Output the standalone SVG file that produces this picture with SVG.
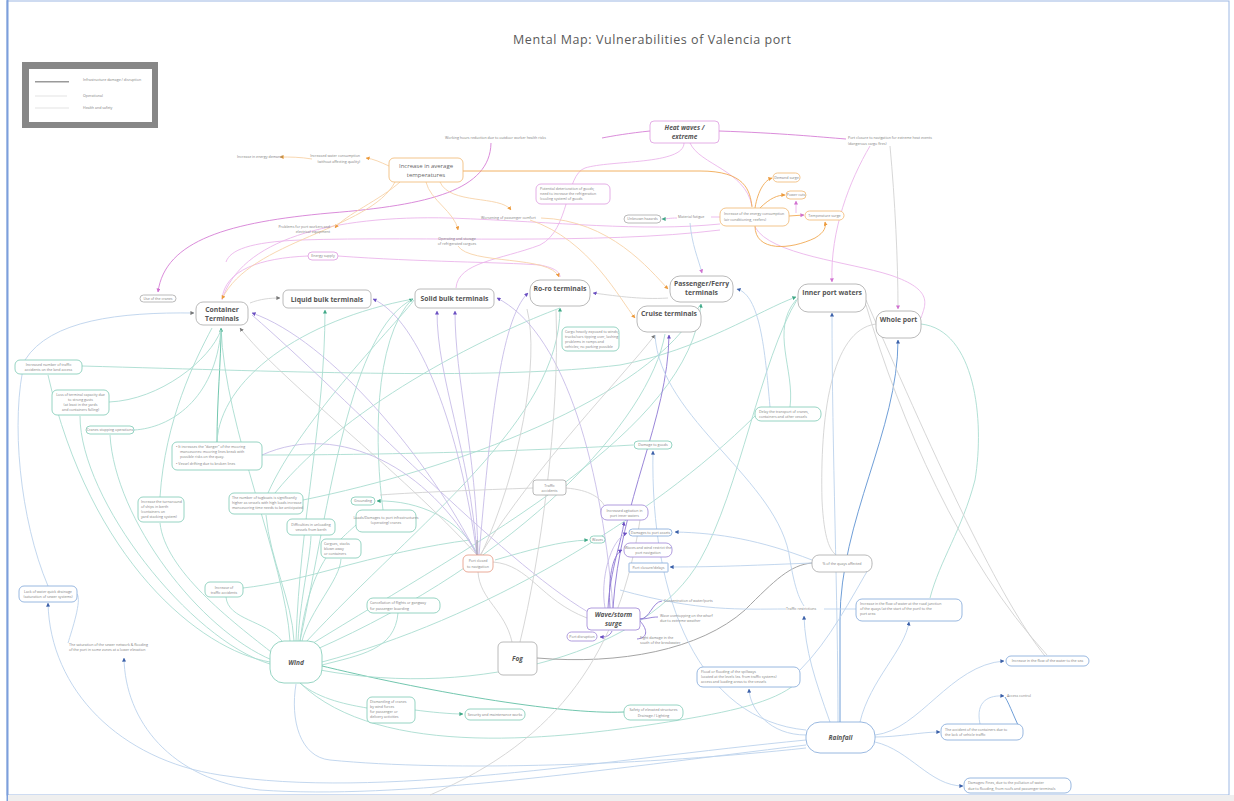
<svg xmlns="http://www.w3.org/2000/svg" width="1234" height="801" viewBox="0 0 1234 801">
<style>
  text{font-family:"Open Sans","Liberation Sans",sans-serif}
  .tx{font-size:3.6px;fill:#808080}
  .main{font-size:6.8px;font-weight:700;fill:#555;text-anchor:middle}
  .haz{font-size:6.5px;font-weight:700;font-style:italic;fill:#555;text-anchor:middle}
  .mid{text-anchor:middle}
  .box{fill:#fff;stroke-width:0.8}
  .bt{stroke:#7cc9b4}.bp{stroke:#9d84d6}.bb{stroke:#7fa6d8}.bk{stroke:#dd9be0}
  .bo{stroke:#f0b670}.bg{stroke:#a8a8a8}.br{stroke:#e5957f}
  #connectors path{fill:none;stroke-width:0.9}
  .ct{stroke:#a9ddd0}.ctd{stroke:#62bfa5}
  .cp{stroke:#c7bce8}.cpd{stroke:#8f78d4}
  .cb{stroke:#bcd2ec}.cbd{stroke:#5f93d2}
  .ck{stroke:#ebb5eb}.ckd{stroke:#d67fd6}
  .co{stroke:#f7d3a8}.cod{stroke:#f0a954}
  .cg{stroke:#d3d3d3}.cgd{stroke:#9a9a9a}
</style>
<defs>
  <marker id="aT" viewBox="0 0 10 10" refX="9" refY="5" markerWidth="4" markerHeight="4" markerUnits="userSpaceOnUse" orient="auto"><path d="M0,0L10,5L0,10z" fill="#3fa886"/></marker>
  <marker id="aP" viewBox="0 0 10 10" refX="9" refY="5" markerWidth="4" markerHeight="4" markerUnits="userSpaceOnUse" orient="auto"><path d="M0,0L10,5L0,10z" fill="#6a4fc2"/></marker>
  <marker id="aB" viewBox="0 0 10 10" refX="9" refY="5" markerWidth="4" markerHeight="4" markerUnits="userSpaceOnUse" orient="auto"><path d="M0,0L10,5L0,10z" fill="#3a5fa8"/></marker>
  <marker id="aK" viewBox="0 0 10 10" refX="9" refY="5" markerWidth="4" markerHeight="4" markerUnits="userSpaceOnUse" orient="auto"><path d="M0,0L10,5L0,10z" fill="#d070d0"/></marker>
  <marker id="aO" viewBox="0 0 10 10" refX="9" refY="5" markerWidth="4" markerHeight="4" markerUnits="userSpaceOnUse" orient="auto"><path d="M0,0L10,5L0,10z" fill="#ec9a3c"/></marker>
  <marker id="aG" viewBox="0 0 10 10" refX="9" refY="5" markerWidth="4" markerHeight="4" markerUnits="userSpaceOnUse" orient="auto"><path d="M0,0L10,5L0,10z" fill="#777"/></marker>
</defs>

<!-- page frame -->
<rect x="0" y="0" width="1234" height="801" fill="#fff"/>
<rect x="7" y="1" width="1222" height="794" fill="none" stroke="#9db8e4" stroke-width="1"/>
<line x1="7.5" y1="0" x2="7.5" y2="801" stroke="#7d9fdc" stroke-width="2"/>
<rect x="8" y="795" width="1226" height="6" fill="#efefef"/>

<text x="652" y="44" font-size="12.5" fill="#5a5a5a" text-anchor="middle" textLength="278">Mental Map: Vulnerabilities of Valencia port</text>

<!-- legend -->
<g id="legend">
  <rect x="22" y="62" width="136" height="66" fill="#878787"/>
  <rect x="29" y="69" width="123" height="53" fill="#fff"/>
  <line x1="35" y1="81.7" x2="69" y2="81.7" stroke="#9a9a9a" stroke-width="1.4"/>
  <line x1="35" y1="96" x2="67" y2="96" stroke="#dcdcdc" stroke-width="0.8"/>
  <line x1="35" y1="108" x2="69" y2="108" stroke="#dcdcdc" stroke-width="0.8"/>
  <text class="tx" x="83" y="81" font-size="3.1">Infrastructure damage / disruption</text>
  <text class="tx" x="83" y="97" font-size="3.1">Operational</text>
  <text class="tx" x="83" y="109" font-size="3.1">Health and safety</text>
</g>

<g id="connectors">
  <!-- heat waves -->
  <path class="ckd" d="M650 131 C630 133,612 136,602 138"/>
  <path class="ckd" d="M491 143 C490 190,430 205,330 213 C230 222,165 240,158 292" marker-end="url(#aK)"/>
  <path class="ck" d="M684 143 C684 165,610 160,585 168 C565 175,570 230,540 245 C500 260,458 262,456 288"/>
  <path class="ck" d="M690 143 C700 165,745 170,752 206"/>
  <path class="ckd" d="M719 131 C780 133,820 137,846 139"/>
  <path class="ck" d="M870 146 C850 180,830 230,832 282" marker-end="url(#aK)"/>
  <path class="cg" d="M890 146 C895 200,898 260,898 309" marker-end="url(#aK)"/>
  <path class="ck" d="M338 256 C420 262,500 262,540 265 C555 268,560 272,560 277"/>
  <path class="ck" d="M308 256 C260 258,225 270,222 299"/>
  <path class="ck" d="M222 300 C240 240,330 215,450 218 C560 222,640 232,720 224"/>
  <path class="ck" d="M755 227 C770 255,850 262,890 275 C935 290,925 305,921 318"/>
  <path class="ck" d="M720 230 C600 245,420 236,300 240 C250 242,230 250,226 262"/>
  <path class="ck" d="M796 213 L796 201" marker-end="url(#aK)"/>
  <path class="ck" d="M677 218 C670 218,666 219,662 219" marker-end="url(#aT)"/>
  <path class="ck" d="M720 217 L711 217"/>
  <path class="cb" d="M690 223 C692 245,698 258,702 273" marker-end="url(#aK)"/>
  <!-- average temperatures -->
  <path class="cod" d="M463 171 L700 171 C745 171,750 190,752 207"/>
  <path class="co" d="M389 166 C380 162,374 159,366 158" marker-end="url(#aO)"/>
  <path class="co" d="M312 159 C300 157,290 157,280 157" marker-end="url(#aO)"/>
  <path class="co" d="M440 182 C450 205,500 195,511 210" marker-end="url(#aO)"/>
  <path class="co" d="M426 182 C430 200,455 212,458 230" marker-end="url(#aO)"/>
  <path class="co" d="M400 182 C380 200,345 215,335 228" marker-end="url(#aO)"/>
  <path class="co" d="M395 182 C370 230,250 240,222 299" marker-end="url(#aO)"/>
  <path class="co" d="M541 218 C610 220,650 270,668 289" marker-end="url(#aO)"/>
  <path class="co" d="M458 246 C470 265,550 255,559 277" marker-end="url(#aO)"/>
  <path class="co" d="M530 220 C590 240,620 300,635 318" marker-end="url(#aO)"/>
  <path class="cod" d="M755 208 C758 190,765 180,772 178" marker-end="url(#aO)"/>
  <path class="cod" d="M760 208 C770 198,778 195,785 195" marker-end="url(#aO)"/>
  <path class="cod" d="M789 216 L804 215" marker-end="url(#aK)"/>
  <path class="cod" d="M755 226 C755 252,790 250,815 238 C825 232,826 227,825 222" marker-end="url(#aO)"/>
  <!-- wind -->
  <path class="ct" d="M290 641 C285 560,225 430,221 328" marker-end="url(#aT)"/>
  <path class="ctd" d="M217 442 C217 400,221 360,221 329"/>
  <path class="ct" d="M217 442 C220 380,300 320,413 299"/>
  <path class="ct" d="M296 641 C300 520,325 420,325 310" marker-end="url(#aT)"/>
  <path class="ct" d="M300 641 C330 500,350 330,413 299" marker-end="url(#aT)"/>
  <path class="ct" d="M305 643 C420 520,560 420,560 308" marker-end="url(#aT)"/>
  <path class="ct" d="M310 645 C480 540,690 430,701 304" marker-end="url(#aT)"/>
  <path class="ct" d="M315 650 C520 560,650 420,665 334"/>
  <path class="ct" d="M82 366 C300 372,500 380,620 365 C700 350,760 310,796 297" marker-end="url(#aT)"/>
  <path class="ct" d="M270 662 C200 650,90 560,48 375"/>
  <path class="ct" d="M270 664 C190 640,80 500,80 416"/>
  <path class="ct" d="M272 660 C200 630,115 520,110 435"/>
  <path class="ct" d="M275 655 C230 620,165 570,160 523"/>
  <path class="ct" d="M294 641 C292 600,270 560,266 515"/>
  <path class="ct" d="M298 641 C300 600,310 560,311 536"/>
  <path class="ct" d="M302 641 C310 610,340 580,341 559"/>
  <path class="ct" d="M300 641 C310 560,340 540,356 525"/>
  <path class="ct" d="M226 597 C228 620,265 620,282 641"/>
  <path class="ct" d="M243 588 C270 585,300 578,330 570 C380 556,430 545,470 540"/>
  <path class="ct" d="M322 665 C360 655,395 650,398 613"/>
  <path class="ctd" d="M318 665 C420 690,560 715,624 712"/>
  <path class="ct" d="M300 683 C320 700,350 705,367 708"/>
  <path class="ct" d="M415 710 C430 712,450 714,463 714" marker-end="url(#aT)"/>
  <path class="ct" d="M322 662 C480 620,650 520,755 416"/>
  <path class="ct" d="M790 407 C795 370,770 330,796 300"/>
  <path class="ct" d="M262 455 C400 455,550 450,633 445"/>
  <path class="ct" d="M268 493 C300 420,400 320,414 300"/>
  <path class="ct" d="M275 493 C350 400,500 330,560 308"/>
  <path class="ct" d="M383 510 C375 450,372 340,413 298"/>
  <path class="ct" d="M477 553 C460 520,420 500,377 501" marker-end="url(#aT)"/>
  <path class="ct" d="M495 560 C530 550,560 541,588 540" marker-end="url(#aT)"/>
  <path class="ct" d="M134 430 C170 428,215 400,221 330"/>
  <path class="ct" d="M109 402 C160 400,210 360,221 330"/>
  <path class="ct" d="M160 497 C165 420,195 360,212 328"/>
  <path class="ct" d="M303 500 C450 470,650 400,700 305"/>
  <path class="ct" d="M921 324 C975 330,985 420,975 480 C962 530,940 560,930 598"/>
  <path class="ct" d="M320 670 C480 700,650 650,700 560 C740 490,760 360,798 298"/>
  <path class="ct" d="M300 683 C380 760,560 740,680 720 C740 710,780 700,800 680"/>
  <!-- port closure hub, waves -->
  <path class="cp" d="M477 555 C430 460,330 340,252 313" marker-end="url(#aP)"/>
  <path class="cg" d="M477 555 C400 470,280 380,240 328" marker-end="url(#aG)"/>
  <path class="cp" d="M477 555 C470 450,437 380,437 311" marker-end="url(#aP)"/>
  <path class="cp" d="M478 555 C476 450,455 380,455 311" marker-end="url(#aP)"/>
  <path class="cp" d="M477 555 C460 430,420 320,373 299" marker-end="url(#aP)"/>
  <path class="cp" d="M479 555 C490 430,500 320,528 293" marker-end="url(#aP)"/>
  <path class="cg" d="M480 555 C540 460,620 380,655 335" marker-end="url(#aG)"/>
  <path class="cg" d="M481 555 C520 470,540 360,527 309"/>
  <path class="cgd" d="M477 555 L477 540" stroke-width="2"/>
  <path class="cp" d="M476 553 C430 470,340 420,262 455"/>
  <path class="cp" d="M613 608 C600 450,560 330,497 298" marker-end="url(#aP)"/>
  <path class="cpd" d="M613 608 C620 500,668 420,669 335" marker-end="url(#aP)"/>
  <path class="cpd" d="M608 608 C610 570,622 540,624 522" marker-end="url(#aP)"/>
  <path class="cp" d="M605 608 C600 580,610 540,627 533" marker-end="url(#aP)"/>
  <path class="cpd" d="M610 608 C608 580,612 555,622 550" marker-end="url(#aP)"/>
  <path class="cpd" d="M640 619 C650 619,652 602,662 601"/>
  <path class="cpd" d="M640 619 C648 619,650 617,658 617"/>
  <path class="cpd" d="M640 621 C648 630,648 638,637 639"/>
  <path class="cpd" d="M612 631 C610 636,606 637,600 637" marker-end="url(#aP)"/>
  <path class="cp" d="M588 612 C500 560,350 400,252 315"/>
  <!-- fog -->
  <path class="cgd" d="M537 658 C620 665,700 650,745 610 C775 580,790 565,812 563"/>
  <path class="cg" d="M512 642 C505 610,480 600,478 572"/>
  <path class="cg" d="M520 642 C540 560,560 420,556 310"/>
  <path class="cg" d="M493 562 C530 565,540 600,587 618"/>
  <path class="cg" d="M640 520 C620 650,560 740,430 795"/>
  <path class="cg" d="M566 488 C590 490,600 498,604 505"/>
  <path class="cg" d="M533 488 C480 490,420 492,380 495"/>
  <path class="cg" d="M876 324 C830 330,820 420,822 500 C824 540,830 550,836 555"/>
  <path class="cg" d="M250 303 C260 299,270 298,280 298" marker-end="url(#aG)"/>
  <path class="cg" d="M668 298 C640 300,610 295,593 293" marker-end="url(#aP)"/>
  <!-- rainfall -->
  <path class="cbd" d="M840 722 L840 620 C840 520,898 430,898 340" stroke-width="1.5" marker-end="url(#aB)"/>
  <path class="cb" d="M838 722 C838 600,832 450,832 313" marker-end="url(#aB)"/>
  <path class="cb" d="M875 735 C920 730,950 665,1004 661" marker-end="url(#aB)"/>
  <path class="cb" d="M875 737 C900 737,920 732,940 732" marker-end="url(#aB)"/>
  <path class="cb" d="M875 742 C910 750,930 786,963 786" marker-end="url(#aB)"/>
  <path class="cb" d="M980 724 C975 700,990 695,1004 696" marker-end="url(#aB)"/>
  <path class="cbd" d="M1022 733 C1015 720,1010 705,1005 697" stroke-width="1.2"/>
  <path class="cb" d="M806 735 C770 735,750 710,749 689" marker-end="url(#aB)"/>
  <path class="cb" d="M830 722 C815 680,805 650,804 616" marker-end="url(#aB)"/>
  <path class="cb" d="M860 722 C870 680,905 650,909 622" marker-end="url(#aB)"/>
  <path class="cb" d="M806 740 C600 760,380 800,220 775 C120 760,50 690,48 603" marker-end="url(#aB)"/>
  <path class="cb" d="M806 745 C600 770,400 800,260 790 C170 780,125 720,124 658" marker-end="url(#aB)"/>
  <path class="cb" d="M806 730 C700 720,650 600,653 451" marker-end="url(#aB)"/>
  <path class="cb" d="M806 748 C650 765,450 772,330 760 C300 757,290 720,296 684"/>
  <path class="cb" d="M824 609 L856 609"/>
  <path class="cb" d="M786 609 C740 609,700 612,620 590"/>
  <path class="cb" d="M77 594 C82 600,72 630,68 643"/>
  <path class="cb" d="M812 563 C760 565,720 567,670 567" marker-end="url(#aB)"/>
  <path class="cb" d="M812 560 C760 540,720 533,675 532" marker-end="url(#aB)"/>
  <path class="cg" d="M866 305 C900 420,960 560,1047 655"/>
  <path class="cg" d="M1045 656 C1000 600,940 470,866 300"/>
  <path class="cb" d="M770 407 C765 350,760 295,737 289" marker-end="url(#aB)"/>
  <path class="cb" d="M655 335 C660 420,780 480,790 560 C795 590,800 600,804 606"/>
  <path class="cb" d="M48 586 C20 520,10 420,25 360 C50 320,120 312,194 313" marker-end="url(#aG)"/>
  <path class="cb" d="M800 670 C830 640,850 600,872 563"/>
</g>

<!-- main terminals -->
<g id="container"><rect class="box bg" x="196" y="302" width="52" height="23" rx="7"/><text class="main" x="222" y="311.5">Container</text><text class="main" x="222" y="320.5">Terminals</text></g>
<g id="liquid"><rect class="box bg" x="283" y="290" width="88" height="18" rx="5"/><text class="main" x="327" y="301.5">Liquid bulk terminals</text></g>
<g id="solid"><rect class="box bg" x="415" y="289" width="79" height="19" rx="5"/><text class="main" x="454.5" y="300.5">Solid bulk terminals</text></g>
<g id="roro"><rect class="box bg" x="530" y="280" width="60" height="26" rx="10"/><text class="main" x="560" y="291">Ro-ro terminals</text></g>
<g id="passenger"><rect class="box bg" x="670" y="276" width="63" height="26" rx="10"/><text class="main" x="701.5" y="285.5">Passenger/Ferry</text><text class="main" x="701.5" y="294.5">terminals</text></g>
<g id="cruise"><rect class="box bg" x="637" y="306" width="64" height="26" rx="10"/><text class="main" x="669" y="316">Cruise terminals</text></g>
<g id="inner"><rect class="box bg" x="798" y="284" width="68" height="28" rx="10"/><text class="main" x="832" y="295">Inner port waters</text></g>
<g id="whole"><rect class="box bg" x="876" y="311" width="45" height="27" rx="10"/><text class="main" x="898.5" y="322">Whole port</text></g>

<!-- hazards -->
<g id="heat"><rect class="box bk" x="650" y="121" width="69" height="22" rx="4" stroke-width="1"/><text class="haz" x="684.5" y="130">Heat waves /</text><text class="haz" x="684.5" y="139">extreme</text></g>
<g id="temp"><rect class="box bo" x="389" y="158" width="74" height="24" rx="5" stroke-width="1"/><text class="mid" x="426" y="168" font-size="6" fill="#666">Increase in average</text><text class="mid" x="426" y="177" font-size="6" fill="#666">temperatures</text></g>
<g id="wind"><rect class="box bt" x="270" y="641" width="52" height="42" rx="14" stroke-width="1"/><text class="haz" x="296" y="665">Wind</text></g>
<g id="fog"><rect class="box bg" x="498" y="642" width="39" height="33" rx="5" stroke-width="1"/><text class="haz" x="517.5" y="661">Fog</text></g>
<g id="wave"><rect class="box bp" x="587" y="608" width="53" height="22" rx="4" stroke-width="1.3"/><text class="haz" x="613.5" y="617">Wave/storm</text><text class="haz" x="613.5" y="626">surge</text></g>
<g id="rain"><rect class="box bb" x="806" y="722" width="69" height="31" rx="14" stroke-width="1"/><text class="haz" x="840.5" y="740">Rainfall</text></g>

<!-- secondary nodes: heat and temperature -->
<g id="n-work"><text class="tx" x="445" y="139">Working hours reduction due to outdoor worker health risks</text></g>
<g id="n-water"><text class="tx" x="360" y="157" text-anchor="end">Increased water consumption</text><text class="tx" x="360" y="163" text-anchor="end">(without affecting quality)</text></g>
<g id="n-energyd"><text class="tx" x="237" y="158">Increase in energy demand</text></g>
<g id="n-goods"><rect class="box bk" x="536" y="184" width="74" height="20" rx="5"/><text class="tx" x="540" y="190">Potential deterioration of goods;</text><text class="tx" x="540" y="195">need to increase the refrigeration</text><text class="tx" x="540" y="200">(cooling system) of goods</text></g>
<g id="n-comfort"><text class="tx" x="481" y="219">Worsening of passenger comfort</text></g>
<g id="n-equip"><text class="tx" x="330" y="228" text-anchor="end">Problems for port workers and</text><text class="tx" x="330" y="233" text-anchor="end">electrical equipment</text></g>
<g id="n-reefer"><text class="tx mid" x="457" y="240">Operating and storage</text><text class="tx mid" x="457" y="245">of refrigerated cargoes</text></g>
<g id="n-supply"><rect class="box bk" x="308" y="252" width="30" height="8" rx="4"/><text class="tx mid" x="323" y="257.3">Energy supply</text></g>
<g id="n-cranes"><rect class="box bg" x="140" y="295" width="36" height="7" rx="3.5"/><text class="tx mid" x="158" y="299.8">Use of the cranes</text></g>
<g id="n-unknown"><rect class="box bg" x="624" y="215" width="37" height="8" rx="4"/><text class="tx mid" x="642.5" y="220.3">Unknown hazards</text></g>
<g id="n-fatigue"><text class="tx" x="678" y="218.3">Material fatigue</text></g>
<g id="n-consump"><rect class="box bo" x="720" y="208" width="69" height="18" rx="6"/><text class="tx" x="724" y="215">Increase of the energy consumption</text><text class="tx" x="724" y="221">(air conditioning, reefers)</text></g>
<g id="n-demand"><rect class="box bo" x="773" y="173" width="27" height="9" rx="4.5"/><text class="tx mid" x="786.5" y="178.8">Demand surge</text></g>
<g id="n-cuts"><rect class="box bo" x="786" y="191" width="20" height="8" rx="4"/><text class="tx mid" x="796" y="196.3">Power cuts</text></g>
<g id="n-tsurge"><rect class="box bo" x="805" y="211" width="39" height="9" rx="4.5"/><text class="tx mid" x="824.5" y="216.8">Temperature surge</text></g>
<g id="n-closeheat"><text class="tx" x="848" y="139">Port closure to navigation for extreme heat events</text><text class="tx" x="848" y="145">(dangerous cargo fires)</text></g>

<!-- secondary nodes: wind -->
<g id="n-traffic1"><rect class="box bt" x="15" y="360" width="67" height="14" rx="5"/><text class="tx mid" x="48.5" y="366">Increased number of traffic</text><text class="tx mid" x="48.5" y="371">accidents on the land access</text></g>
<g id="n-capacity"><rect class="box bt" x="52" y="390" width="57" height="25" rx="5"/><text class="tx mid" x="80.5" y="396">Loss of terminal capacity due</text><text class="tx mid" x="80.5" y="401">to strong gusts</text><text class="tx mid" x="80.5" y="406">(at least in the yards</text><text class="tx mid" x="80.5" y="411">and containers falling)</text></g>
<g id="n-stop"><rect class="box bt" x="86" y="426" width="48" height="8" rx="4"/><text class="tx mid" x="110" y="431.3">Cranes stopping operations</text></g>
<g id="n-mooring"><rect class="box bt" x="172" y="442" width="90" height="28" rx="5"/><text class="tx" x="176" y="448">•  It increases the "danger" of the mooring</text><text class="tx" x="180" y="453">manoeuvres: mooring lines break with</text><text class="tx" x="180" y="458">possible risks on the quay.</text><text class="tx" x="176" y="464.5">•  Vessel drifting due to broken lines</text></g>
<g id="n-turn"><rect class="box bt" x="138" y="497" width="46" height="25" rx="5"/><text class="tx" x="141" y="503">Increase the turnaround</text><text class="tx" x="141" y="508">of ships in berth</text><text class="tx" x="141" y="513">(containers on</text><text class="tx" x="141" y="518">yard stacking system)</text></g>
<g id="n-tugs"><rect class="box bt" x="229" y="493" width="74" height="21" rx="5"/><text class="tx" x="232" y="499">The number of tugboats is significantly</text><text class="tx" x="232" y="504">higher as vessels with high loads increase</text><text class="tx" x="232" y="509">manoeuvring time needs to be anticipated</text></g>
<g id="n-unload"><rect class="box bt" x="287" y="519" width="48" height="16" rx="5"/><text class="tx mid" x="311" y="526">Difficulties in unloading</text><text class="tx mid" x="311" y="531">vessels from berth</text></g>
<g id="n-ground"><rect class="box bt" x="351" y="497" width="24" height="8" rx="4"/><text class="tx mid" x="363" y="502.3">Grounding</text></g>
<g id="n-loads"><rect class="box bt" x="356" y="510" width="60" height="22" rx="6"/><text class="tx mid" x="386" y="519">Loads/Damages to port infrastructures</text><text class="tx mid" x="386" y="524">(operating) cranes</text></g>
<g id="n-stacks"><rect class="box bt" x="321" y="539" width="40" height="19" rx="5"/><text class="tx" x="324" y="545">Cargoes, stacks</text><text class="tx" x="324" y="550">blown away</text><text class="tx" x="324" y="555">or containers</text></g>
<g id="n-traffic2"><rect class="box bt" x="205" y="582" width="38" height="15" rx="5"/><text class="tx mid" x="224" y="588.5">Increase of</text><text class="tx mid" x="224" y="593.5">traffic accidents</text></g>
<g id="n-flights"><rect class="box bt" x="367" y="598" width="73" height="15" rx="6"/><text class="tx" x="370" y="604">Cancellation of flights or gangway</text><text class="tx" x="370" y="609.5">for passenger boarding</text></g>
<g id="n-dismantle"><rect class="box bt" x="367" y="697" width="48" height="26" rx="5"/><text class="tx" x="370" y="703">Dismantling of cranes</text><text class="tx" x="370" y="708">by wind forces</text><text class="tx" x="370" y="713">for passenger or</text><text class="tx" x="370" y="718">delivery activities</text></g>
<g id="n-security"><rect class="box bt" x="465" y="709" width="60" height="11" rx="5"/><text class="tx mid" x="495" y="715.8">Security and maintenance works</text></g>
<g id="n-lighting"><rect class="box bt" x="624" y="705" width="59" height="15" rx="6"/><text class="tx mid" x="653.5" y="711">Safety of elevated structures</text><text class="tx mid" x="653.5" y="716.5">Drainage / Lighting</text></g>
<g id="n-gusty"><rect class="box bt" x="755" y="407" width="66" height="14" rx="6"/><text class="tx" x="759" y="413">Delay the transport of cranes,</text><text class="tx" x="759" y="418">containers and other vessels</text></g>
<g id="n-goodsdmg"><rect class="box bt" x="634" y="441" width="38" height="8" rx="4"/><text class="tx mid" x="653" y="446.3">Damage to goods</text></g>
<g id="n-roro"><rect class="box bt" x="562" y="327" width="57" height="24" rx="5"/><text class="tx" x="565" y="333">Cargo heavily exposed to winds;</text><text class="tx" x="565" y="338">trucks/cars tipping over, lashing</text><text class="tx" x="565" y="343">problems in ramps and</text><text class="tx" x="565" y="348">vehicles; no parking possible</text></g>

<!-- secondary nodes: fog, waves -->
<g id="n-accidents"><rect class="box bg" x="533" y="480" width="33" height="15" rx="3"/><text class="tx mid" x="549.5" y="486.5">Traffic</text><text class="tx mid" x="549.5" y="491.5">accidents</text></g>
<g id="n-closed"><rect class="box br" x="463" y="555" width="30" height="17" rx="5"/><text class="tx mid" x="478" y="562">Port closed</text><text class="tx mid" x="478" y="567.5">to navigation</text></g>
<g id="n-agitation"><rect class="box bp" x="601" y="505" width="47" height="15" rx="6"/><text class="tx mid" x="624.5" y="511.5">Increased agitation in</text><text class="tx mid" x="624.5" y="516.5">port inner waters</text></g>
<g id="n-waves"><rect class="box bt" x="590" y="536" width="15" height="7" rx="3.5"/><text class="tx mid" x="597.5" y="540.8" font-size="3">Waves</text></g>
<g id="n-assets"><rect class="box bb" x="629" y="529" width="43" height="7" rx="3.5"/><text class="tx mid" x="650.5" y="533.8">Damages to port assets</text></g>
<g id="n-navig"><rect class="box bp" x="624" y="543" width="48" height="14" rx="6"/><text class="tx mid" x="648" y="549">Waves and wind restrict the</text><text class="tx mid" x="648" y="554">port navigation</text></g>
<g id="n-delays"><rect class="box bb" x="629" y="563" width="39" height="9" rx="0.5"/><text class="tx mid" x="648.5" y="568.8">Port closure/delays</text></g>
<g id="n-concen"><text class="tx" x="664" y="602">Concentration of water/ports</text></g>
<g id="n-overtop"><text class="tx" x="660" y="617">Wave overtopping on the wharf</text><text class="tx" x="660" y="622">due to extreme weather</text></g>
<g id="n-break"><text class="tx" x="640" y="639">Eight damage in the</text><text class="tx" x="640" y="644">south of the breakwater</text></g>
<g id="n-disrupt"><rect class="box bp" x="567" y="632" width="30" height="9" rx="4.5"/><text class="tx mid" x="582" y="637.8">Port disruption</text></g>

<!-- secondary nodes: rainfall -->
<g id="n-drain"><rect class="box bb" x="19" y="586" width="58" height="16" rx="5"/><text class="tx mid" x="48" y="592.5">Lack of water quick drainage</text><text class="tx mid" x="48" y="598">(saturation of sewer systems)</text></g>
<g id="n-sewer"><text class="tx" x="69" y="646">The saturation of the sewer network &amp; flooding</text><text class="tx" x="69" y="651">of the port in some zones at a lower elevation</text></g>
<g id="n-spill"><rect class="box bb" x="697" y="667" width="103" height="20" rx="6"/><text class="tx" x="701" y="673">Flood or flooding of the spillways</text><text class="tx" x="701" y="678">located at the levels (ex. from traffic systems)</text><text class="tx" x="701" y="683">access and loading areas to the vessels</text></g>
<g id="n-quays"><rect class="box bg" x="812" y="555" width="60" height="17" rx="7"/><text class="tx mid" x="842" y="565">% of the quays affected</text></g>
<g id="n-restrict"><text class="tx" x="786" y="610">Traffic restrictions</text></g>
<g id="n-flow"><rect class="box bb" x="856" y="599" width="106" height="22" rx="6"/><text class="tx" x="860" y="605">Increase in the flow of water at the road junction</text><text class="tx" x="860" y="610">of the quays (at the start of the port) to the</text><text class="tx" x="860" y="615">port area</text></g>
<g id="n-sea"><rect class="box bb" x="1006" y="656" width="83" height="10" rx="5"/><text class="tx mid" x="1047.5" y="662.3">Increase in the flow of the water to the sea</text></g>
<g id="n-access"><text class="tx" x="1007" y="697">Access control</text></g>
<g id="n-contain"><rect class="box bb" x="941" y="724" width="82" height="16" rx="6"/><text class="tx" x="945" y="730.5">The accident of the containers due to</text><text class="tx" x="945" y="736">the lack of vehicle traffic</text></g>
<g id="n-fines"><rect class="box bb" x="964" y="778" width="107" height="15" rx="6"/><text class="tx" x="968" y="784">Damages: Fines, due to the pollution of water</text><text class="tx" x="968" y="789.5">due to flooding, from roofs and passenger terminals</text></g>
</svg>
